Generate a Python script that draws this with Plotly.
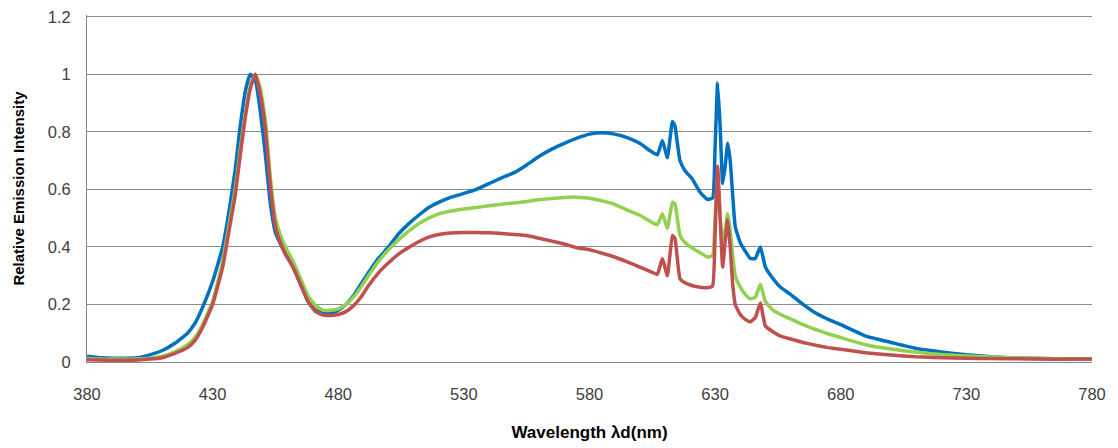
import plotly.graph_objects as go

wavelength = [380, 385, 390, 395, 400, 405, 410, 415, 420, 423, 426, 430, 434, 437, 439, 441, 443, 445, 447, 449,
              451, 453, 455, 457, 459, 462, 465, 468, 471, 474, 477, 480, 483, 486, 489, 492, 496, 500, 504, 508,
              512, 516, 520, 525, 530, 535, 540, 545, 550, 555, 560, 565, 570, 575, 580, 585, 590, 595, 600, 604,
              607, 609, 611, 613, 614, 616, 618, 621, 624, 627, 629, 630, 631, 632, 633, 634, 635, 636, 637, 638,
              640, 642, 644, 646, 648, 650, 653, 656, 660, 665, 670, 675, 680, 690, 700, 710, 720, 730, 740, 750,
              760, 770, 780]

blue = [0.02, 0.015, 0.013, 0.013, 0.015, 0.025, 0.04, 0.065, 0.1, 0.135, 0.19, 0.28, 0.4, 0.55, 0.67, 0.82, 0.94, 1.0, 0.98, 0.87,
        0.72, 0.55, 0.45, 0.41, 0.375, 0.33, 0.27, 0.21, 0.18, 0.17, 0.17, 0.18, 0.2, 0.23, 0.27, 0.31, 0.36, 0.40, 0.445, 0.48,
        0.51, 0.537, 0.555, 0.573, 0.586, 0.60, 0.62, 0.64, 0.658, 0.685, 0.715, 0.74, 0.76, 0.778, 0.792, 0.797, 0.792, 0.78, 0.76, 0.735,
        0.72, 0.77, 0.71, 0.836, 0.82, 0.70, 0.665, 0.635, 0.59, 0.565, 0.57, 0.75, 0.97, 0.82, 0.62, 0.68, 0.76, 0.70, 0.58, 0.47,
        0.415, 0.385, 0.36, 0.36, 0.40, 0.33, 0.29, 0.26, 0.235, 0.20, 0.17, 0.148, 0.13, 0.09, 0.068, 0.047, 0.035, 0.025, 0.018, 0.014,
        0.012, 0.01, 0.01]

green = [0.012, 0.01, 0.01, 0.01, 0.01, 0.013, 0.02, 0.035, 0.06, 0.085, 0.13, 0.21, 0.35, 0.5, 0.6, 0.74, 0.86, 0.96, 1.0, 0.95,
         0.84, 0.64, 0.50, 0.44, 0.40, 0.35, 0.29, 0.23, 0.195, 0.18, 0.18, 0.185, 0.2, 0.225, 0.26, 0.30, 0.35, 0.39, 0.425, 0.455,
         0.48, 0.50, 0.515, 0.525, 0.532, 0.537, 0.543, 0.548, 0.553, 0.558, 0.564, 0.568, 0.572, 0.573, 0.569, 0.56, 0.548, 0.528, 0.51, 0.49,
         0.477, 0.515, 0.465, 0.555, 0.55, 0.44, 0.415, 0.395, 0.38, 0.365, 0.37, 0.5, 0.64, 0.5, 0.42, 0.46, 0.515, 0.46, 0.37, 0.30,
         0.26, 0.235, 0.22, 0.225, 0.27, 0.21, 0.18, 0.165, 0.15, 0.13, 0.113, 0.098, 0.085, 0.06, 0.045, 0.034, 0.026, 0.021, 0.017, 0.014,
         0.012, 0.011, 0.01]

red = [0.008, 0.007, 0.006, 0.006, 0.007, 0.01, 0.015, 0.03, 0.05, 0.075, 0.12, 0.2, 0.33, 0.48, 0.58, 0.72, 0.85, 0.95, 1.0, 0.93,
       0.81, 0.61, 0.47, 0.415, 0.375, 0.33, 0.27, 0.21, 0.175, 0.163, 0.162, 0.165, 0.175, 0.195, 0.225, 0.265, 0.31, 0.345, 0.375, 0.398,
       0.418, 0.434, 0.443, 0.448, 0.45, 0.45, 0.449, 0.447, 0.443, 0.44, 0.43, 0.42, 0.41, 0.397, 0.39, 0.378, 0.365, 0.348, 0.33, 0.315,
       0.305, 0.36, 0.30, 0.44, 0.43, 0.29, 0.275, 0.265, 0.26, 0.258, 0.265, 0.45, 0.68, 0.5, 0.33, 0.42, 0.494, 0.40, 0.27, 0.2,
       0.165, 0.148, 0.14, 0.155, 0.205, 0.125, 0.105, 0.09, 0.08, 0.068, 0.058, 0.05, 0.044, 0.032, 0.024, 0.018, 0.015, 0.013, 0.012, 0.011,
       0.01, 0.01, 0.01]

x_ticks = [380, 430, 480, 530, 580, 630, 680, 730, 780]
y_ticks = [0, 0.2, 0.4, 0.6, 0.8, 1.0, 1.2]
y_tick_labels = ["0", "0.2", "0.4", "0.6", "0.8", "1", "1.2"]

series = [("Blue", blue, "#0070C0"), ("Green", green, "#92D050"), ("Red", red, "#C0504D")]

fig = go.Figure()
for name, vals, col in series:
    fig.add_trace(go.Scatter(x=wavelength, y=vals, mode="lines", name=name,
                             line=dict(color=col, width=3.5, shape="spline", smoothing=0.4)))

tick_font = dict(family="Liberation Sans Narrow, Liberation Sans, Arial", size=16.5, color="#404040")

fig.update_layout(
    width=1118, height=448,
    margin=dict(l=79, r=34, t=7, b=94),
    paper_bgcolor="white", plot_bgcolor="white",
    showlegend=False,
    xaxis=dict(range=[380, 780], tickvals=x_ticks, ticktext=[str(v) for v in x_ticks],
               showgrid=False, zeroline=False, showline=True, linecolor="#888888", linewidth=1,
               ticks="outside", ticklen=17, tickcolor="rgba(0,0,0,0)", tickfont=tick_font,
               automargin=False, ticklabeloverflow="allow",
               title=dict(text="<b>Wavelength λd(nm)</b>",
                          font=dict(family="Liberation Sans, Arial", size=17, color="#000000"), standoff=24)),
    yaxis=dict(range=[0, 1.206], tickvals=y_ticks, ticktext=y_tick_labels,
               showgrid=True, gridcolor="#8c8c8c", gridwidth=1, zeroline=False,
               showline=True, linecolor="#888888", linewidth=1,
               ticks="outside", ticklen=12, tickcolor="rgba(0,0,0,0)", tickfont=tick_font,
               automargin=False, ticklabeloverflow="allow",
               title=dict(text="<b>Relative Emission Intensity</b>",
                          font=dict(family="Liberation Sans, Arial", size=15, color="#000000"), standoff=19)),
)

fig.write_html("out.html")
